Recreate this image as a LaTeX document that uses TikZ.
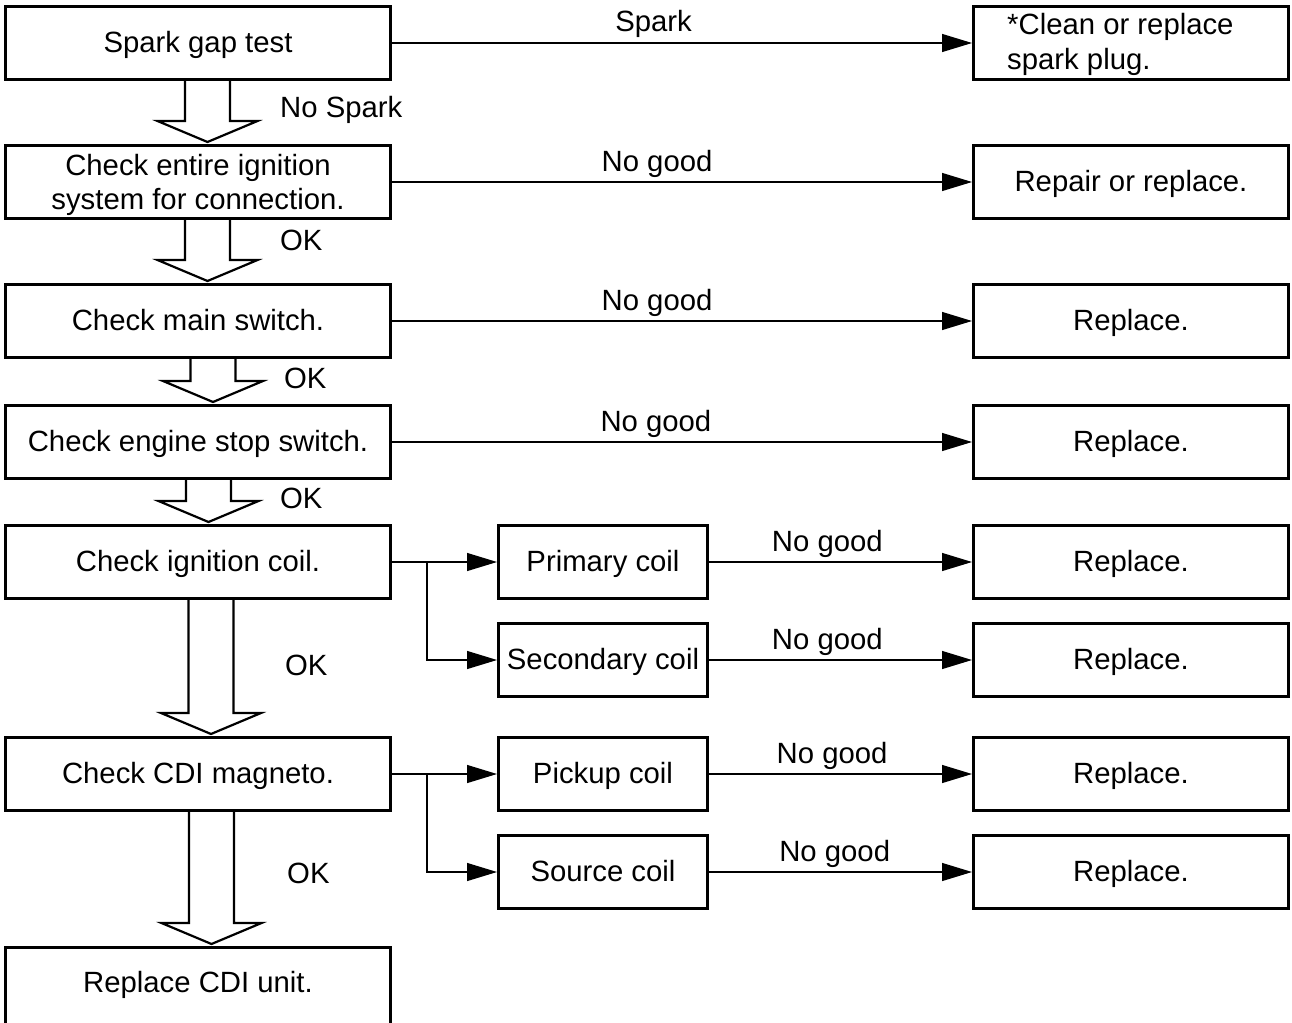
\documentclass[tikz,border=0pt]{standalone}
\usepackage{fontspec}
\setmainfont{Liberation Sans}
\usetikzlibrary{arrows.meta,calc}
\tikzset{
  box/.style={draw, line width=3pt, rectangle, minimum height=73pt, inner sep=0pt,
    align=center, text depth=0pt, font=\fontsize{29.3}{34}\selectfont},
  one/.style={text height=19pt},
  lbox/.style={box, minimum width=385pt},
  mbox/.style={box, minimum width=209pt},
  rbox/.style={box, minimum width=315pt},
  conn/.style={line width=1.2pt, -{Triangle[length=30pt,width=18pt]}},
  lbl/.style={font=\fontsize{29.3}{34}\selectfont, inner sep=0pt},
  blk/.style={line width=2.2pt, line join=miter},
}
\newcommand\blockarr[3]{%
  \draw[blk] let \p1=([xshift=#3]#1.south), \p2=([xshift=#3]#2.north) in
    (\x1-22.5pt,\y1) -- (\x1-22.5pt,\y2+23pt) -- (\x1-50pt,\y2+23pt) -- (\x1,\y2+2pt)
    -- (\x1+50pt,\y2+23pt) -- (\x1+22.5pt,\y2+23pt) -- (\x1+22.5pt,\y1);}
\begin{document}
\begin{tikzpicture}[x=1pt,y=-1pt]
\useasboundingbox (0,0) rectangle (1292,1022);
% left column
\node[lbox,one] (spark)  at (198,43)  {Spark gap test};
\node[lbox]     (entire) at (198,182) {Check entire ignition\\system for connection.};
\node[lbox,one] (mainsw) at (198,321) {Check main switch.};
\node[lbox,one] (stopsw) at (198,442) {Check engine stop switch.};
\node[lbox,one] (ign)    at (198,562) {Check ignition coil.};
\node[lbox,one] (cdi)    at (198,774) {Check CDI magneto.};
\node[lbox,one,minimum height=81pt,text depth=10pt] (repcdi) at (198,988) {Replace CDI unit.};
% middle column
\node[mbox,one] (prim)   at (603,562) {Primary coil};
\node[mbox,one] (sec)    at (603,660) {Secondary coil};
\node[mbox,one] (pick)   at (603,774) {Pickup coil};
\node[mbox,one] (src)    at (603,872) {Source coil};
% right column
\node[rbox]     (clean)  at (1131,43) {};
\node[lbl,anchor=base west] (cleanA) at (1007,35) {*Clean or replace};
\node[lbl,anchor=base west] (cleanB) at (1007,70) {spark plug.};
\node[rbox,one] (repair) at (1131,182) {Repair or replace.};
\node[rbox,one] (r3)     at (1131,321) {Replace.};
\node[rbox,one] (r4)     at (1131,442) {Replace.};
\node[rbox,one] (r5)     at (1131,562) {Replace.};
\node[rbox,one] (r5b)    at (1131,660) {Replace.};
\node[rbox,one] (r6)     at (1131,774) {Replace.};
\node[rbox,one] (r6b)    at (1131,872) {Replace.};
% block arrows
\blockarr{spark}{entire}{9.5pt}
\blockarr{entire}{mainsw}{9.5pt}
\blockarr{mainsw}{stopsw}{15pt}
\blockarr{stopsw}{ign}{10.5pt}
\blockarr{ign}{cdi}{13pt}
\blockarr{cdi}{repcdi}{13.5pt}
\node[lbl,anchor=base west] (l1) at (280,117.5) {No Spark};
\node[lbl,anchor=base west] (l2) at (280,250.5) {OK};
\node[lbl,anchor=base west] (l3) at (284,388.5) {OK};
\node[lbl,anchor=base west] (l4) at (280,508.5) {OK};
\node[lbl,anchor=base west] (l5) at (285,675.5) {OK};
\node[lbl,anchor=base west] (l6) at (287,883.5) {OK};
% horizontal connectors
\draw[conn] (spark) -- (clean) node[lbl,pos=0.451,anchor=base,yshift=11pt] {Spark};
\draw[conn] (entire) -- (repair) node[lbl,pos=0.457,anchor=base,yshift=11pt] {No good};
\draw[conn] (mainsw) -- (r3) node[lbl,pos=0.457,anchor=base,yshift=11pt] {No good};
\draw[conn] (stopsw) -- (r4) node[lbl,pos=0.455,anchor=base,yshift=11pt] {No good};
\draw[conn] (prim) -- (r5) node[lbl,pos=0.45,anchor=base,yshift=11pt] {No good};
\draw[conn] (sec) -- (r5b) node[lbl,pos=0.45,anchor=base,yshift=11pt] {No good};
\draw[conn] (pick) -- (r6) node[lbl,pos=0.468,anchor=base,yshift=11pt] {No good};
\draw[conn] (src) -- (r6b) node[lbl,pos=0.478,anchor=base,yshift=11pt] {No good};
% branches
\coordinate (br1) at ([xshift=35pt]ign.east);
\coordinate (br2) at ([xshift=35pt]cdi.east);
\draw[conn] (ign) -- (prim);
\draw[conn] (br1) |- (sec);
\draw[conn] (cdi) -- (pick);
\draw[conn] (br2) |- (src);
\end{tikzpicture}
\end{document}
